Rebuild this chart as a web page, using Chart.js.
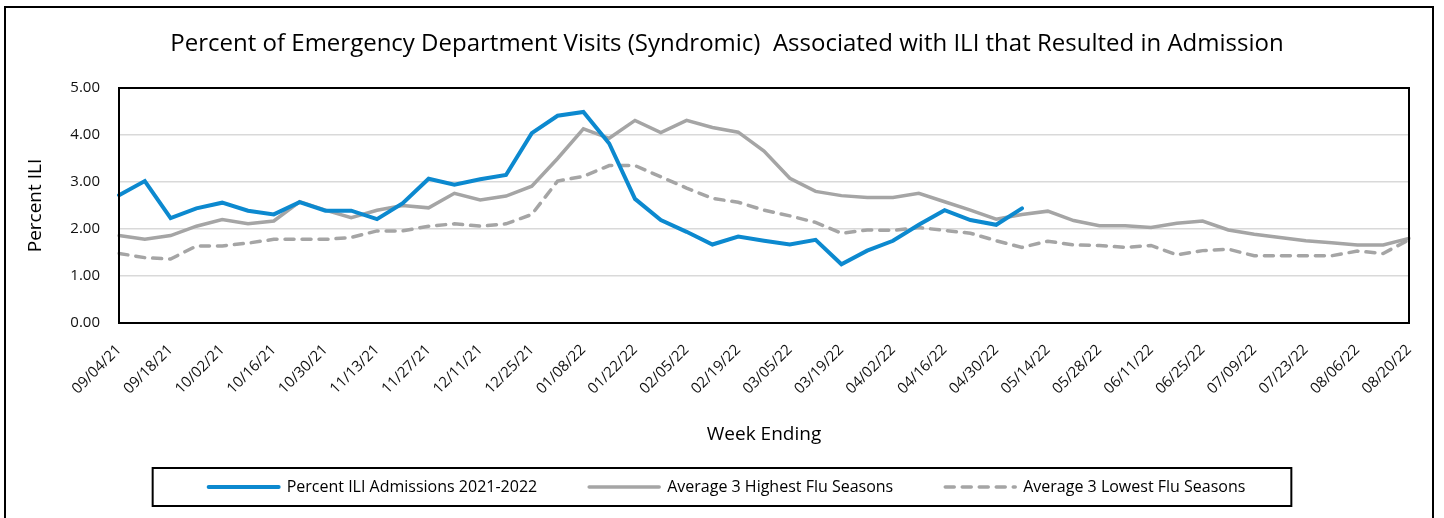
<!DOCTYPE html>
<html lang="en">
<head>
<meta charset="UTF-8">
<title>Percent of ED Visits Associated with ILI that Resulted in Admission</title>
<script src="https://cdn.jsdelivr.net/npm/chart.js"></script>
<style>
  html, body { margin: 0; padding: 0; background: #fff; }
</style>
</head>
<body>
<canvas id="iliChart" width="1444" height="518"></canvas>
<script>
// week ending dates (x axis)
const weeks = [
  '09/04/21', '09/11/21', '09/18/21', '09/25/21', '10/02/21', '10/09/21', '10/16/21', '10/23/21',
  '10/30/21', '11/06/21', '11/13/21', '11/20/21', '11/27/21', '12/04/21', '12/11/21', '12/18/21',
  '12/25/21', '01/01/22', '01/08/22', '01/15/22', '01/22/22', '01/29/22', '02/05/22', '02/12/22',
  '02/19/22', '02/26/22', '03/05/22', '03/12/22', '03/19/22', '03/26/22', '04/02/22', '04/09/22',
  '04/16/22', '04/23/22', '04/30/22', '05/07/22', '05/14/22', '05/21/22', '05/28/22', '06/04/22',
  '06/11/22', '06/18/22', '06/25/22', '07/02/22', '07/09/22', '07/16/22', '07/23/22', '07/30/22',
  '08/06/22', '08/13/22', '08/20/22'
];

// current season (data stops after 05/07/22)
const admissions2122 = [
  2.72, 3.02, 2.23, 2.44, 2.56, 2.39, 2.31, 2.57, 2.39, 2.39,
  2.21, 2.55, 3.07, 2.94, 3.06, 3.15, 4.04, 4.41, 4.49, 3.82,
  2.64, 2.19, 1.94, 1.67, 1.84, 1.75, 1.67, 1.77, 1.25, 1.54,
  1.75, 2.09, 2.40, 2.19, 2.09, 2.44
];

const highestSeasons = [
  1.86, 1.78, 1.86, 2.06, 2.20, 2.11, 2.17, 2.58, 2.40, 2.24,
  2.40, 2.50, 2.45, 2.76, 2.62, 2.70, 2.91, 3.50, 4.13, 3.93,
  4.31, 4.05, 4.31, 4.16, 4.06, 3.66, 3.08, 2.80, 2.71, 2.67,
  2.67, 2.76, 2.58, 2.40, 2.21, 2.31, 2.38, 2.18, 2.07, 2.07,
  2.03, 2.12, 2.17, 1.98, 1.89, 1.82, 1.75, 1.71, 1.66, 1.66,
  1.80
];

const lowestSeasons = [
  1.48, 1.39, 1.36, 1.64, 1.64, 1.70, 1.78, 1.78, 1.78, 1.82,
  1.96, 1.96, 2.06, 2.11, 2.06, 2.11, 2.31, 3.02, 3.12, 3.35,
  3.35, 3.11, 2.87, 2.65, 2.57, 2.40, 2.28, 2.14, 1.91, 1.98,
  1.97, 2.03, 1.97, 1.91, 1.75, 1.61, 1.74, 1.66, 1.65, 1.61,
  1.65, 1.45, 1.54, 1.57, 1.43, 1.43, 1.43, 1.43, 1.53, 1.48,
  1.77
];

const BLUE = '#0c89cf';
const GRAY = '#a5a5a5';

Chart.defaults.font.family = '"Open Sans"';
Chart.defaults.color = '#111';

// outer frame, plot frame and box around the legend
const framePlugin = {
  id: 'frame',
  beforeDraw(chart) {
    const ctx = chart.ctx;
    ctx.save();
    ctx.fillStyle = '#fff';
    ctx.fillRect(0, 0, chart.width, chart.height);
    ctx.strokeStyle = '#000';
    ctx.lineWidth = 2;
    ctx.strokeRect(5, 7, 1428, 530);
    ctx.restore();
  },
  afterDraw(chart) {
    const {ctx, chartArea: a, legend} = chart;
    ctx.save();
    ctx.strokeStyle = '#000';
    ctx.lineWidth = 2;
    ctx.strokeRect(a.left, a.top, a.right - a.left, a.bottom - a.top);
    const boxes = legend.legendHitBoxes;
    const l = Math.min(...boxes.map(b => b.left)) - 56;
    const r = Math.max(...boxes.map(b => b.left + b.width)) + 46;
    const cy = boxes[0].top + boxes[0].height / 2;
    ctx.strokeRect(l, cy - 19, r - l, 38);
    ctx.restore();
  }
};

new Chart(document.getElementById('iliChart'), {
  type: 'line',
  data: {
    labels: weeks,
    datasets: [
      {
        label: 'Percent ILI Admissions 2021-2022',
        data: admissions2122,
        borderColor: BLUE,
        backgroundColor: BLUE,
        borderWidth: 4,
        borderCapStyle: 'round',
        pointRadius: 0,
        tension: 0
      },
      {
        label: 'Average 3 Highest Flu Seasons',
        data: highestSeasons,
        borderColor: GRAY,
        backgroundColor: GRAY,
        borderWidth: 3.5,
        borderCapStyle: 'round',
        pointRadius: 0,
        tension: 0
      },
      {
        label: 'Average 3 Lowest Flu Seasons',
        data: lowestSeasons,
        borderColor: GRAY,
        backgroundColor: GRAY,
        borderWidth: 3.5,
        borderDash: [9, 8],
        borderCapStyle: 'round',
        pointRadius: 0,
        tension: 0
      }
    ]
  },
  options: {
    responsive: false,
    animation: false,
    layout: { padding: { left: 45, right: 35, top: 0, bottom: 13 } },
    plugins: {
      title: {
        display: true,
        text: 'Percent of Emergency Department Visits (Syndromic)  Associated with ILI that Resulted in Admission',
        color: '#000',
        font: { size: 24, weight: 'normal' },
        padding: { top: 30, bottom: 29.2 }
      },
      legend: {
        position: 'bottom',
        labels: {
          usePointStyle: true,
          pointStyle: 'line',
          pointStyleWidth: 70,
          padding: 52,
          color: '#000',
          font: { size: 16 },
          // keep the dataset's dash and width in the legend sample
          generateLabels(chart) {
            const items = Chart.defaults.plugins.legend.labels.generateLabels(chart);
            items.forEach(item => {
              const ds = chart.data.datasets[item.datasetIndex];
              item.lineDash = ds.borderDash || [];
              item.lineWidth = ds.borderWidth;
              item.lineCap = 'round';
              item.strokeStyle = ds.borderColor;
            });
            return items;
          }
        }
      },
      tooltip: { enabled: false }
    },
    scales: {
      x: {
        grid: { display: false, drawTicks: false },
        border: { display: false },
        ticks: {
          autoSkip: false,
          minRotation: 45,
          maxRotation: 45,
          padding: 18,
          color: '#111',
          font: { size: 15 },
          callback: (val, idx) => idx % 2 === 0 ? weeks[idx] : null
        },
        title: {
          display: true,
          text: 'Week Ending',
          color: '#000',
          font: { size: 19 },
          padding: { top: 0, bottom: -19 }
        },
        afterFit(scale) { scale.height = 104; }
      },
      y: {
        min: 0,
        max: 5,
        grid: { color: '#d9d9d9', lineWidth: 1.5, drawTicks: false },
        border: { display: false },
        ticks: {
          stepSize: 1,
          padding: 19,
          color: '#111',
          font: { size: 15 },
          callback: v => v.toFixed(2)
        },
        title: {
          display: true,
          text: 'Percent ILI',
          color: '#000',
          font: { size: 19 },
          padding: { top: -21, bottom: 0 }
        },
        afterFit(scale) { scale.width = 74; }
      }
    }
  },
  plugins: [framePlugin]
});
</script>
</body>
</html>
